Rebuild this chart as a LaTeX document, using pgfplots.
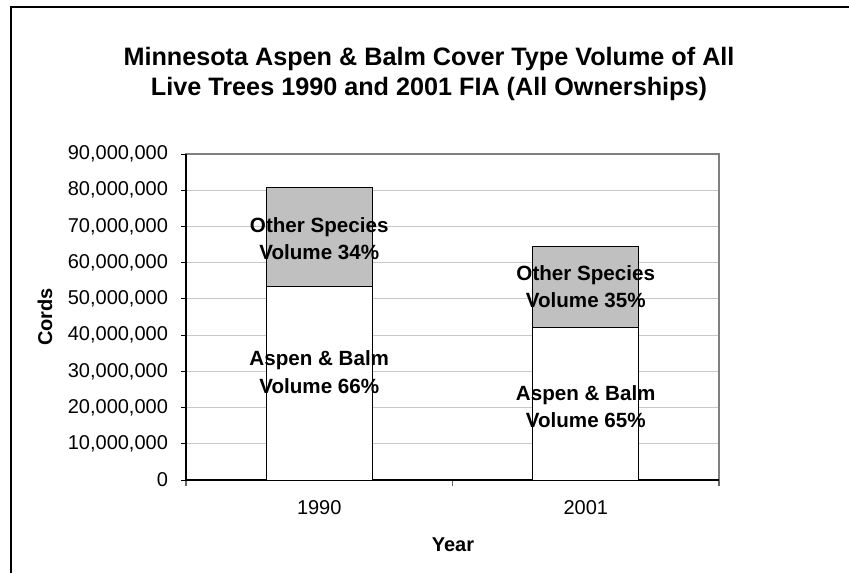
\documentclass[border=0pt]{standalone}
\usepackage{pgfplots}
\pgfplotsset{compat=1.18}
\usepackage{fontspec}
\setmainfont{Liberation Sans}
\definecolor{othergray}{RGB}{192,192,192}
\definecolor{gridgray}{RGB}{200,200,200}
\begin{document}
\begin{tikzpicture}
\useasboundingbox (0,0) rectangle (424.5pt,286.5pt);
\fill[white] (0,0) rectangle (424.5pt,286.5pt);
\draw[black,line width=0.6pt] (5.5pt,0) -- (5.5pt,283pt) -- (424.5pt,283pt);
\begin{axis}[
  at={(93pt,46.5pt)}, anchor=south west,
  scale only axis, width=266.5pt, height=163pt,
  ybar stacked, bar width=53pt,
  xmin=-0.5, xmax=1.5, ymin=0, ymax=90000000,
  xtick={0,1}, xticklabels={1990,2001},
  major x tick style={draw=none},
  minor xtick={-0.5,0.5,1.5},
  minor x tick style={draw=black!60, line width=0.6pt},
  minor tick length=3pt,
  ytick={0,10000000,20000000,30000000,40000000,50000000,60000000,70000000,80000000,90000000},
  scaled y ticks=false,
  /pgf/number format/fixed,
  /pgf/number format/1000 sep={,},
  /pgf/number format/assume math mode=true,
  tick label style={font=\fontsize{10}{12}\selectfont},
  tick align=outside, major tick length=2.5pt,
  xtick pos=bottom, ytick pos=left,
  ymajorgrids, grid style={draw=gridgray, line width=0.5pt},
  axis line style={draw=black!50, line width=0.8pt},
  tick style={black, line width=0.5pt},
  xticklabel style={yshift=-4pt},
  yticklabel style={xshift=-3pt},
  clip=false,
]
\addplot[fill=white, draw=black, line width=0.5pt] coordinates {(0,53300000) (1,42200000)};
\addplot[fill=othergray, draw=black, line width=0.5pt] coordinates {(0,27400000) (1,22300000)};
\draw[black, line width=0.6pt] (rel axis cs:0,1) -- (rel axis cs:0,0) -- (rel axis cs:1,0);
\coordinate (o1) at (axis cs:0,66700000);
\coordinate (a1) at (axis cs:0,29800000);
\coordinate (o2) at (axis cs:1,53400000);
\coordinate (a2) at (axis cs:1,20300000);
\end{axis}
\node[align=center, font=\bfseries\fontsize{10.3}{13.7}\selectfont] at (o1) {Other Species\\Volume 34\%};
\node[align=center, font=\bfseries\fontsize{10.3}{13.7}\selectfont] at (a1) {Aspen \& Balm\\Volume 66\%};
\node[align=center, font=\bfseries\fontsize{10.3}{13.7}\selectfont] at (o2) {Other Species\\Volume 35\%};
\node[align=center, font=\bfseries\fontsize{10.3}{13.7}\selectfont] at (a2) {Aspen \& Balm\\Volume 65\%};
\node[align=center, font=\bfseries\fontsize{12.6}{15}\selectfont] at (214.5pt,249.5pt) {Minnesota Aspen \& Balm Cover Type Volume of All\\Live Trees 1990 and 2001 FIA (All Ownerships)};
\node[rotate=90, font=\bfseries\fontsize{10}{12}\selectfont] at (22.5pt,128pt) {Cords};
\node[font=\bfseries\fontsize{10}{12}\selectfont] at (226.5pt,14pt) {Year};
\end{tikzpicture}
\end{document}
